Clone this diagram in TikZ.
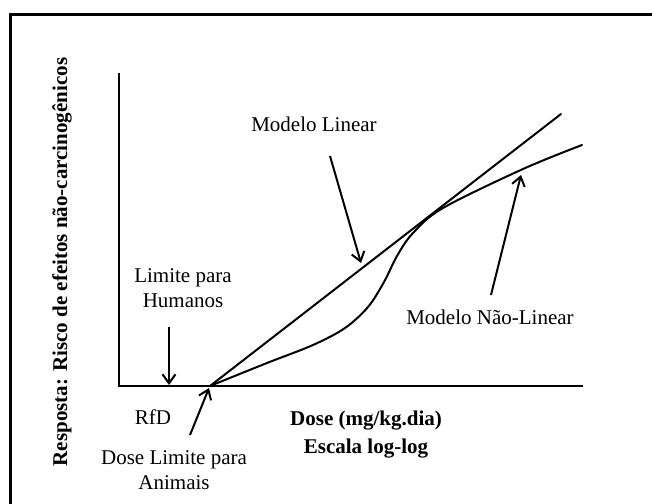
\documentclass[tikz,border=0pt]{standalone}
\usepackage{fontspec}
\setmainfont{Liberation Serif}
\usetikzlibrary{arrows.meta}
\begin{document}
\begin{tikzpicture}[x=1pt,y=-1pt,
  lbl/.style={font=\fontsize{21}{25}\selectfont, inner sep=0pt, align=center},
  blbl/.style={lbl, font=\fontsize{21}{28}\selectfont\bfseries},
  curve/.style={line width=2pt, line cap=round},
  pointer/.style={line width=2pt, -{Straight Barb[length=9pt,width=13pt,line width=2pt]}}]
\useasboundingbox (0,0) rectangle (652,503);
\draw[line width=3.5pt] (10.5,14.3) rectangle (670,520);
% axes
\coordinate (ytop) at (119,73);
\coordinate (origin) at (119,386);
\coordinate (xend) at (583,386);
\draw[line width=2pt] (ytop) -- (origin) -- (xend);
% models
\coordinate (start) at (210,386);
\coordinate (linend) at (561,114);
\draw[curve] (start) -- (linend);
\draw[curve] plot[smooth, tension=0.55] coordinates {(210,386) (267,363) (313,345) (345,328) (368,307) (384,282) (397,256) (413,233) (443,208) (523,169) (582,145)};
% labels
\node[lbl] (lin) at (314,124) {Modelo Linear};
\node[lbl] (nlin) at (490,317) {Modelo Não-Linear};
\node[lbl] (hum) at (183,288) {Limite para\\Humanos};
\node[lbl] (rfd) at (153,417) {RfD};
\node[lbl] (ani) at (174,470) {Dose Limite para\\Animais};
\node[blbl] (dose) at (366,435) {Dose (mg/kg.dia)\\Escala log-log};
\node[blbl, rotate=90] (ylab) at (62,262) {Resposta: Risco de efeitos não-carcinogênicos};
% arrows
\coordinate (linfrom) at (330,156);
\coordinate (linto) at (361,263);
\coordinate (nlinfrom) at (491,295);
\coordinate (nlinto) at (521,175);
\coordinate (humfrom) at (169,327);
\coordinate (humto) at (169,385);
\coordinate (anifrom) at (190,435);
\coordinate (anito) at (209,388);
\draw[pointer] (linfrom) -- (linto);
\draw[pointer] (nlinfrom) -- (nlinto);
\draw[pointer] (humfrom) -- (humto);
\draw[pointer] (anifrom) -- (anito);
\end{tikzpicture}
\end{document}
